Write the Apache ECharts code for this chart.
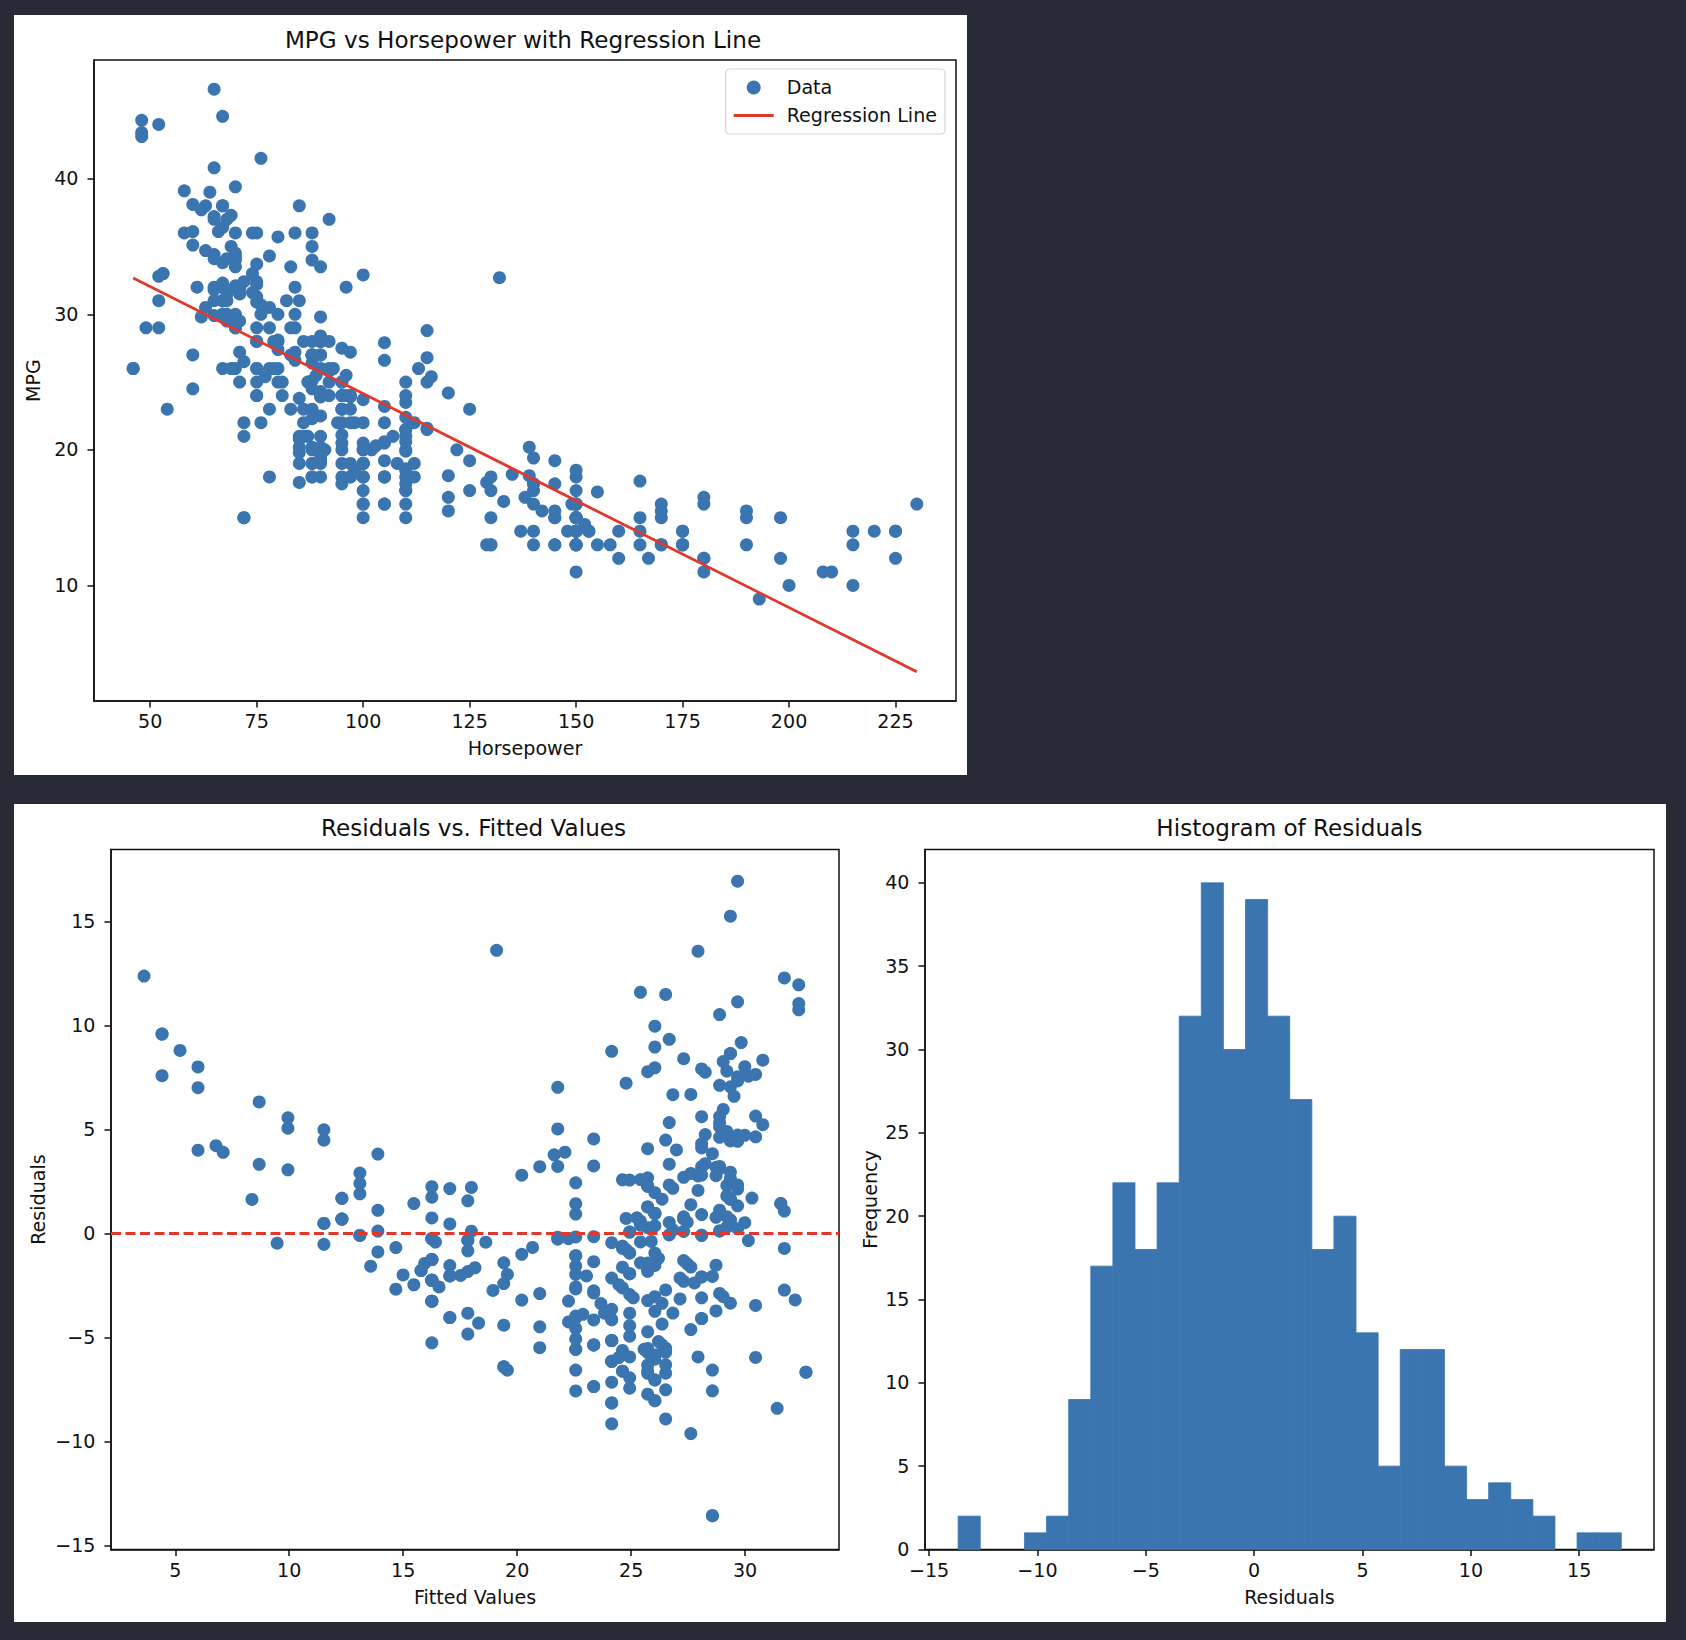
<!DOCTYPE html>
<html><head><meta charset="utf-8">
<script src="https://cdn.jsdelivr.net/npm/echarts@6/dist/echarts.min.js"></script>
<style>html,body{margin:0;padding:0;background:#282b36;}#c{width:1686px;height:1640px;}</style>
</head><body><div id="c"></div>
<script>
// ---- data ----
const horsepower = [130,165,150,150,140,198,220,215,225,190,170,160,150,225,95,95,97,85,88,46,87,90,95,113,90,215,200,210,193,88,90,95,
100,105,100,88,100,165,175,153,150,180,170,175,110,72,100,88,86,90,70,76,65,69,60,70,95,80,54,90,86,165,175,150,153,150,208,155,160,190,97,150,130,140,150,112,76,87,69,86,92,97,80,88,
175,150,145,137,150,198,150,158,150,215,225,175,105,100,100,88,95,46,150,167,170,180,100,88,72,94,90,85,107,90,145,230,49,75,91,112,150,110,122,180,95,
100,100,67,80,65,75,100,110,105,140,150,150,140,150,83,67,78,52,61,75,75,75,97,93,67,95,105,72,72,170,145,150,148,110,105,110,95,110,110,129,75,83,100,78,96,71,97,97,70,90,95,88,98,115,53,86,81,92,79,83,
140,150,120,152,100,105,81,90,52,60,70,53,100,78,110,95,71,70,75,72,102,150,88,108,120,180,145,130,150,68,80,58,96,70,145,110,145,130,110,105,100,98,180,170,190,149,78,88,75,89,63,83,67,78,97,110,110,
48,66,52,70,60,110,140,139,105,95,85,88,100,90,105,85,110,120,145,165,139,140,68,95,97,75,95,105,85,97,103,125,115,133,71,68,115,85,88,90,110,130,129,138,135,155,142,125,150,71,65,80,80,77,125,71,90,70,70,65,69,90,115,115,90,76,60,70,65,90,88,90,90,78,90,75,92,75,65,105,65,48,48,67,67,67,
67,62,132,100,88,72,84,84,92,110,84,58,64,60,67,65,62,68,63,65,65,74,75,75,100,74,80,76,116,120,110,105,88,85,88,88,88,85,84,90,92,
74,68,68,63,70,88,75,70,67,67,67,110,85,92,112,96,84,90,52,84,79,82];
const mpg = [18,15,18,16,17,15,14,14,14,15,15,14,15,14,24,22,18,21,27,26,25,24,25,26,21,10,10,11,9,27,28,25,
19,16,17,19,18,14,14,14,14,12,13,13,18,22,19,18,23,28,30,30,31,35,27,26,24,25,23,20,21,13,14,15,14,17,11,13,12,13,19,15,13,13,14,18,22,21,26,22,28,23,28,27,
13,14,13,14,15,12,13,13,14,13,12,13,18,16,18,18,23,26,11,12,13,12,18,20,21,22,18,19,21,26,15,16,29,24,20,19,15,24,20,11,20,
19,15,31,26,32,25,16,16,18,16,13,14,14,14,29,26,26,31,32,28,24,26,24,26,31,19,18,15,15,16,15,16,14,17,16,15,18,21,20,13,29,23,20,23,24,25,24,18,29,19,23,23,22,25,33,28,25,25,26,27,
17.5,16,15.5,14.5,22,22,24,22.5,29,24.5,29,33,20,18,18.5,17.5,29.5,32,28,26.5,20,13,19,19,16.5,16.5,13,13,13,31.5,30,36,25.5,33.5,17.5,17,15.5,15,17.5,20.5,19,18.5,16,15.5,15.5,16,29,24.5,26,25.5,30.5,33.5,30,30.5,22,21.5,21.5,
43.1,36.1,32.8,39.4,36.1,19.9,19.4,20.2,19.2,20.5,20.2,25.1,20.5,19.4,20.6,20.8,18.6,18.1,19.2,17.7,18.1,17.5,30,27.5,27.2,30.9,21.1,23.2,23.8,23.9,20.3,17,21.6,16.2,31.5,29.5,21.5,19.8,22.3,20.2,20.6,17,17.6,16.5,18.2,16.9,15.5,19.2,18.5,31.9,34.1,35.7,27.4,25.4,23,27.2,23.9,34.2,34.5,31.8,37.3,28.4,28.8,26.8,33.5,41.5,38.1,32.1,37.2,28,26.4,24.3,19.1,34.3,29.8,31.3,37,32.2,46.6,27.9,40.8,44.3,43.4,36.4,30,44.6,
33.8,29.8,32.7,23.7,35,32.4,27.2,26.6,25.8,23.5,30,39.1,39,35.1,32.3,37,37.7,34.1,34.7,34.4,29.9,33,33.7,32.4,32.9,31.6,28.1,30.7,25.4,24.2,22.4,26.6,20.2,17.6,28,27,34,31,29,27,24,
36,37,31,38,36,36,36,34,38,32,38,25,38,26,22,32,36,27,44,32,28,31];
// regression line end points (horsepower, mpg)
const regHp = [46, 230];
const regMpg = [32.67, 3.63];
// histogram of residuals
const histEdges = [-13.66,-12.64,-11.62,-10.60,-9.58,-8.56,-7.54,-6.52,-5.50,-4.48,-3.46,-2.44,-1.42,-0.40,0.62,1.64,2.66,3.68,4.70,5.72,6.74,7.76,8.78,9.80,10.82,11.84,12.86,13.88,14.90,15.92,16.94];
const histCounts = [2,0,0,1,2,9,17,22,18,22,32,40,30,39,32,27,18,20,13,5,12,12,5,3,4,3,2,0,1,1];
// tick labels
const hpTicks = [50,75,100,125,150,175,200,225];
const mpgTicks = [10,20,30,40];
const fittedTicks = [5,10,15,20,25,30];
const residTicks = [-15,-10,-5,0,5,10,15];
const histXTicks = [-15,-10,-5,0,5,10,15];
const freqTicks = [0,5,10,15,20,25,30,35,40];

// ---- derived: fitted values and residuals from the regression line ----
const slope = (regMpg[1]-regMpg[0])/(regHp[1]-regHp[0]);
const fitted = horsepower.map(h => regMpg[0] + slope*(h - regHp[0]));
const residuals = mpg.map((m,i) => m - fitted[i]);

const FONT = 'DejaVu Sans';
const FS = 19.1;
const TFS = 23.1;
const TXT = '#111';
const BLUE = '#3a75b0';
const RED = '#e0392b';

function axis(gridIndex, min, max, ticks, name, isY, nameGap) {
  return {
    type: 'value', gridIndex, min, max, name, nameLocation: 'middle', nameGap,
    nameTextStyle: {fontFamily: FONT, fontSize: FS, color: TXT},
    axisLine: {show: true, onZero: false, lineStyle: {color: TXT, width: 1.5}},
    axisTick: {show: true, inside: false, length: 6.5, lineStyle: {color: TXT, width: 1.5}, customValues: ticks},
    axisLabel: {show: true, margin: isY ? 15.5 : 11, customValues: ticks, fontFamily: FONT, fontSize: FS, color: TXT,
      formatter: v => String(v).replace('-', '\u2212')},
    splitLine: {show: false}
  };
}
const gridBase = {show: true, backgroundColor: '#fff', borderColor: TXT, borderWidth: 1.5, containLabel: false};

const chart = echarts.init(document.getElementById('c'), null, {renderer: 'svg'});
chart.setOption({
  backgroundColor: '#282b36',
  animation: false,
  graphic: [
    {type: 'rect', z: -100, silent: true, shape: {x: 14, y: 15, width: 953, height: 760}, style: {fill: '#fff'}},
    {type: 'rect', z: -100, silent: true, shape: {x: 14, y: 804, width: 1652, height: 818}, style: {fill: '#fff'}}
  ],
  title: [
    {text: 'MPG vs Horsepower with Regression Line', left: 523, top: 28, textAlign: 'center', padding: 0,
      textStyle: {fontFamily: FONT, fontSize: TFS, fontWeight: 'normal', color: TXT}},
    {text: 'Residuals vs. Fitted Values', left: 473.5, top: 816, textAlign: 'center', padding: 0,
      textStyle: {fontFamily: FONT, fontSize: TFS, fontWeight: 'normal', color: TXT}},
    {text: 'Histogram of Residuals', left: 1289.5, top: 816, textAlign: 'center', padding: 0,
      textStyle: {fontFamily: FONT, fontSize: TFS, fontWeight: 'normal', color: TXT}}
  ],
  legend: {
    data: [{name: 'Data', icon: 'circle'}, {name: 'Regression Line', icon: 'path://M0,0L40,0L40,2.8L0,2.8Z'}],
    orient: 'vertical', right: 741, top: 69,
    backgroundColor: '#fff', borderColor: '#d5d5d5', borderWidth: 1.2, borderRadius: 4,
    padding: [9, 8, 9, 8], itemGap: 9, itemWidth: 40, itemHeight: 14,
    textStyle: {fontFamily: FONT, fontSize: FS, color: TXT, padding: [0, 0, 0, 8]}
  },
  grid: [
    Object.assign({left: 94, top: 60, width: 862, height: 641}, gridBase),
    Object.assign({left: 111, top: 849.5, width: 728, height: 700}, gridBase),
    Object.assign({left: 925, top: 849.5, width: 729, height: 700}, gridBase)
  ],
  xAxis: [
    axis(0, 36.8, 239.2, hpTicks, 'Horsepower', false, 38),
    axis(1, 2.18, 34.12, fittedTicks, 'Fitted Values', false, 38),
    axis(2, -15.19, 18.45, histXTicks, 'Residuals', false, 38)
  ],
  yAxis: [
    axis(0, 1.48, 48.75, mpgTicks, 'MPG', true, 49),
    axis(1, -15.19, 18.45, residTicks, 'Residuals', true, 63),
    axis(2, 0, 42, freqTicks, 'Frequency', true, 45)
  ],
  series: [
    {name: 'Data', type: 'scatter', xAxisIndex: 0, yAxisIndex: 0, symbolSize: 13,
      itemStyle: {color: BLUE, opacity: 1}, data: horsepower.map((h, i) => [h, mpg[i]])},
    {name: 'Regression Line', type: 'line', xAxisIndex: 0, yAxisIndex: 0, symbol: 'none', showSymbol: false,
      symbolKeepAspect: true,
      lineStyle: {color: RED, width: 2.8}, itemStyle: {color: RED}, z: 3,
      data: regHp.map((h, i) => [h, regMpg[i]])},
    {name: 'Residuals', type: 'scatter', xAxisIndex: 1, yAxisIndex: 1, symbolSize: 13,
      itemStyle: {color: BLUE, opacity: 1}, data: fitted.map((f, i) => [f, residuals[i]]),
      markLine: {silent: true, symbol: ['none', 'none'], label: {show: false}, animation: false,
        lineStyle: {color: RED, type: [10, 4.5], width: 2.8}, emphasis: {disabled: true}, data: [{yAxis: 0}]}},
    {name: 'Histogram', type: 'custom', xAxisIndex: 2, yAxisIndex: 2,
      encode: {x: [0, 1], y: 2},
      data: histCounts.map((c, i) => [histEdges[i], histEdges[i + 1], c]),
      renderItem: function (params, api) {
        if (!(api.value(2) > 0)) return null;
        const p0 = api.coord([api.value(0), api.value(2)]);
        const p1 = api.coord([api.value(1), 0]);
        return {type: 'rect', shape: {x: p0[0], y: p0[1], width: p1[0] - p0[0], height: p1[1] - p0[1]},
          style: {fill: BLUE, stroke: BLUE, lineWidth: 0.8}};
      }}
  ]
});
</script>
</body></html>
